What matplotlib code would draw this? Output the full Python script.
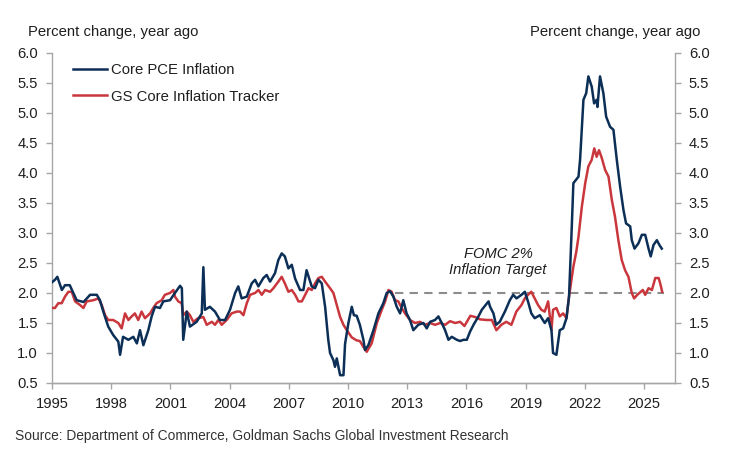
import numpy as np
import matplotlib.pyplot as plt

plt.rcParams['font.family'] = ['Liberation Sans', 'DejaVu Sans']

# values (decimal year, percent)
pce_years = [1995.0, 1995.15, 1995.27, 1995.5, 1995.66, 1995.9, 1996.08, 1996.25, 1996.6, 1996.93,
             1997.27, 1997.43, 1997.6, 1997.85, 1998.1, 1998.36, 1998.45, 1998.6, 1998.87, 1999.12,
             1999.3, 1999.46, 1999.63, 1999.88, 2000.05, 2000.22, 2000.47, 2000.64, 2000.98, 2001.23,
             2001.49, 2001.58, 2001.65, 2001.83, 2001.99, 2002.33, 2002.59, 2002.67, 2002.75, 2003.0,
             2003.26, 2003.51, 2003.77, 2004.02, 2004.28, 2004.44, 2004.61, 2004.87, 2005.12, 2005.29,
             2005.46, 2005.71, 2005.88, 2006.05, 2006.3, 2006.47, 2006.64, 2006.8, 2006.98, 2007.15,
             2007.32, 2007.57, 2007.74, 2007.9, 2008.16, 2008.33, 2008.5, 2008.67, 2008.84, 2009.0,
             2009.09, 2009.26, 2009.34, 2009.43, 2009.6, 2009.77, 2009.85, 2010.02, 2010.19, 2010.3,
             2010.44, 2010.6, 2010.78, 2010.86, 2011.03, 2011.29, 2011.54, 2011.79, 2011.96, 2012.13,
             2012.3, 2012.47, 2012.64, 2012.8, 2012.97, 2013.14, 2013.31, 2013.56, 2013.82, 2013.99,
             2014.16, 2014.41, 2014.58, 2014.75, 2014.92, 2015.09, 2015.26, 2015.51, 2015.68, 2015.85,
             2016.02, 2016.19, 2016.36, 2016.61, 2016.78, 2016.95, 2017.12, 2017.2, 2017.37, 2017.5,
             2017.69, 2017.95, 2018.2, 2018.37, 2018.54, 2018.79, 2018.96, 2019.12, 2019.29, 2019.46,
             2019.72, 2019.97, 2020.14, 2020.31, 2020.39, 2020.56, 2020.73, 2020.9, 2021.07, 2021.2,
             2021.34, 2021.42, 2021.68, 2021.76, 2021.93, 2022.07, 2022.18, 2022.35, 2022.47, 2022.6,
             2022.64, 2022.77, 2022.94, 2023.08, 2023.28, 2023.45, 2023.62, 2023.79, 2023.96, 2024.09,
             2024.3, 2024.38, 2024.52, 2024.72, 2024.89, 2025.06, 2025.23, 2025.34, 2025.48, 2025.65,
             2025.78, 2025.9]
pce_values = [2.18, 2.22, 2.27, 2.05, 2.13, 2.13, 2.0, 1.88, 1.85, 1.97,
              1.97, 1.88, 1.69, 1.44, 1.30, 1.19, 0.97, 1.27, 1.22, 1.27,
              1.16, 1.38, 1.13, 1.38, 1.61, 1.77, 1.75, 1.86, 1.88, 2.0,
              2.12, 2.08, 1.22, 1.69, 1.44, 1.52, 1.66, 2.43, 1.72, 1.77,
              1.69, 1.55, 1.55, 1.72, 2.0, 2.11, 1.91, 1.94, 2.16, 2.22,
              2.11, 2.25, 2.30, 2.19, 2.33, 2.55, 2.66, 2.61, 2.41, 2.47,
              2.24, 2.05, 2.05, 2.38, 2.11, 2.08, 2.22, 2.16, 1.77, 1.22,
              1.0, 0.88, 0.77, 0.91, 0.63, 0.63, 1.15, 1.5, 1.77, 1.63,
              1.62, 1.47, 1.22, 1.05, 1.13, 1.38, 1.66, 1.83, 2.0, 2.03,
              1.94, 1.77, 1.66, 1.88, 1.66, 1.55, 1.38, 1.47, 1.5, 1.41,
              1.52, 1.55, 1.61, 1.5, 1.38, 1.22, 1.27, 1.22, 1.2, 1.22,
              1.22, 1.36, 1.47, 1.61, 1.72, 1.79, 1.86, 1.77, 1.66, 1.47,
              1.52, 1.69, 1.88, 1.97, 1.91, 1.97, 2.02, 1.86, 1.66, 1.58,
              1.63, 1.5, 1.58, 1.38, 1.0, 0.97, 1.38, 1.41, 1.58, 1.94,
              3.11, 3.83, 3.94, 4.22, 5.22, 5.33, 5.61, 5.44, 5.16, 5.22,
              5.1, 5.61, 5.33, 4.94, 4.77, 4.72, 4.22, 3.77, 3.38, 3.16,
              3.11, 2.88, 2.74, 2.83, 2.97, 2.97, 2.74, 2.61, 2.8, 2.88,
              2.8, 2.74]

gs_years = [1995.0, 1995.15, 1995.32, 1995.49, 1995.66, 1995.83, 1996.0, 1996.17, 1996.42, 1996.59,
            1996.76, 1997.1, 1997.35, 1997.52, 1997.69, 1997.85, 1998.1, 1998.36, 1998.53, 1998.7,
            1998.87, 1999.04, 1999.2, 1999.37, 1999.54, 1999.71, 1999.97, 2000.13, 2000.3, 2000.56,
            2000.72, 2000.98, 2001.15, 2001.23, 2001.4, 2001.57, 2001.65, 2001.83, 2001.99, 2002.16,
            2002.41, 2002.67, 2002.84, 2003.1, 2003.26, 2003.43, 2003.6, 2003.85, 2004.1, 2004.36,
            2004.53, 2004.7, 2004.87, 2005.04, 2005.29, 2005.46, 2005.63, 2005.8, 2006.05, 2006.22,
            2006.47, 2006.64, 2006.8, 2006.98, 2007.15, 2007.32, 2007.49, 2007.66, 2007.83, 2008.0,
            2008.16, 2008.33, 2008.5, 2008.67, 2008.84, 2009.09, 2009.26, 2009.43, 2009.6, 2009.77,
            2009.94, 2010.19, 2010.44, 2010.6, 2010.78, 2010.95, 2011.2, 2011.46, 2011.71, 2011.88,
            2012.05, 2012.21, 2012.38, 2012.55, 2012.72, 2012.89, 2013.14, 2013.4, 2013.65, 2013.9,
            2014.16, 2014.41, 2014.67, 2014.92, 2015.17, 2015.43, 2015.68, 2015.9, 2016.2, 2016.44,
            2016.7, 2017.03, 2017.29, 2017.52, 2017.77, 2018.02, 2018.28, 2018.53, 2018.79, 2018.96,
            2019.12, 2019.29, 2019.46, 2019.63, 2019.8, 2019.97, 2020.14, 2020.31, 2020.39, 2020.56,
            2020.73, 2020.9, 2021.07, 2021.2, 2021.42, 2021.57, 2021.68, 2021.85, 2022.02, 2022.18,
            2022.35, 2022.48, 2022.6, 2022.72, 2022.86, 2023.03, 2023.2, 2023.37, 2023.53, 2023.7,
            2023.87, 2024.04, 2024.21, 2024.38, 2024.5, 2024.66, 2024.83, 2024.94, 2025.06, 2025.23,
            2025.4, 2025.57, 2025.74, 2025.82, 2025.92]
gs_values = [1.75, 1.75, 1.83, 1.83, 1.94, 2.02, 2.02, 1.86, 1.8, 1.75,
             1.86, 1.88, 1.91, 1.8, 1.63, 1.55, 1.55, 1.5, 1.41, 1.66,
             1.55, 1.61, 1.66, 1.55, 1.69, 1.58, 1.66, 1.75, 1.83, 1.88,
             1.97, 2.0, 2.05, 1.94, 1.86, 1.83, 1.63, 1.69, 1.63, 1.52,
             1.58, 1.6, 1.47, 1.52, 1.47, 1.55, 1.47, 1.55, 1.66, 1.69,
             1.69, 1.63, 1.83, 1.97, 2.0, 2.05, 1.97, 2.05, 2.02, 2.08,
             2.19, 2.27, 2.16, 2.02, 2.05, 1.97, 1.86, 1.86, 1.97, 2.08,
             2.05, 2.16, 2.25, 2.27, 2.19, 2.08, 2.0, 1.8, 1.6, 1.47,
             1.38, 1.26, 1.21, 1.2, 1.1, 1.02, 1.16, 1.5, 1.72, 1.86,
             2.05, 2.02, 1.88, 1.86, 1.75, 1.66, 1.55, 1.5, 1.52, 1.47,
             1.5, 1.47, 1.5, 1.47, 1.53, 1.5, 1.52, 1.45, 1.62, 1.6,
             1.56, 1.55, 1.55, 1.38, 1.47, 1.52, 1.47, 1.69, 1.8, 1.91,
             1.97, 2.02, 1.91, 1.8, 1.72, 1.69, 1.86, 1.38, 1.72, 1.75,
             1.61, 1.66, 1.58, 1.94, 2.44, 2.69, 2.94, 3.44, 3.83, 4.11,
             4.22, 4.41, 4.27, 4.38, 4.25, 4.05, 3.94, 3.55, 3.27, 2.88,
             2.55, 2.38, 2.27, 2.0, 1.91, 1.97, 2.02, 2.05, 1.97, 2.08,
             2.05, 2.25, 2.25, 2.16, 2.02]

target_level = 2.0
target_start = 2012.4
target_end = 2026.0

x_ticks = [1995, 1998, 2001, 2004, 2007, 2010, 2013, 2016, 2019, 2022, 2025]
y_ticks = [0.5, 1.0, 1.5, 2.0, 2.5, 3.0, 3.5, 4.0, 4.5, 5.0, 5.5, 6.0]

NAVY = '#0c2f57'
RED = '#c9373d'
SPINE = '#a6a6a6'
TEXT = '#1f1f1f'


def style_axis(ax, side):
    for s in ['top', 'right', 'left', 'bottom']:
        ax.spines[s].set_visible(False)
    ax.spines[side].set_visible(True)
    ax.spines[side].set_color(SPINE)
    ax.spines[side].set_linewidth(1.0)
    ax.spines['bottom'].set_visible(True)
    ax.spines['bottom'].set_color(SPINE)
    ax.spines['bottom'].set_linewidth(1.0)
    ax.set_ylim(0.5, 6.0)
    ax.set_yticks(y_ticks)
    ax.set_yticklabels([f'{v:.1f}' for v in y_ticks])
    ax.tick_params(axis='y', direction='out', length=4, width=1, color=SPINE,
                   labelsize=10.6, labelcolor=TEXT, pad=6)


def main():
    fig = plt.figure(figsize=(7.36, 4.59), dpi=100)
    ax = fig.add_axes([52 / 736, 1 - 383 / 459, (675 - 52) / 736, (383 - 53) / 459])

    ax.plot(gs_years, gs_values, color=RED, lw=1.8, label='GS Core Inflation Tracker', zorder=3)
    ax.plot(pce_years, pce_values, color=NAVY, lw=1.8, label='Core PCE Inflation', zorder=4)
    ax.plot([target_start, target_end], [target_level, target_level], color='#8c8c8c',
            lw=1.5, dashes=(4, 3), zorder=2)

    ax.set_xlim(1995, 2026.57)
    ax.set_xticks(x_ticks)
    ax.set_xticklabels([str(y) for y in x_ticks])
    ax.tick_params(axis='x', direction='out', length=4, width=1, color=SPINE,
                   labelsize=10.6, labelcolor=TEXT, pad=6)
    style_axis(ax, 'left')

    ax2 = ax.twinx()
    style_axis(ax2, 'right')
    ax2.tick_params(axis='x', bottom=False)

    ax.text(2017.6, 2.52, 'FOMC 2%\nInflation Target', ha='center', va='center',
            style='italic', fontsize=10.6, color=TEXT, linespacing=1.2)

    handles, labels = ax.get_legend_handles_labels()
    leg = fig.legend(handles[::-1], labels[::-1], loc='upper left',
                     bbox_to_anchor=(73 / 736, 1 - 63 / 459), frameon=False,
                     fontsize=10.7, handlelength=2.3, handletextpad=0.25,
                     labelspacing=0.85, borderpad=0, borderaxespad=0)
    for t in leg.get_texts():
        t.set_color(TEXT)

    fig.text(28 / 736, 1 - 32 / 459, 'Percent change, year ago', ha='left', va='center',
             fontsize=10.7, color=TEXT)
    fig.text(700 / 736, 1 - 32 / 459, 'Percent change, year ago', ha='right', va='center',
             fontsize=10.7, color=TEXT)
    fig.text(15 / 736, 1 - 436 / 459,
             'Source: Department of Commerce, Goldman Sachs Global Investment Research',
             ha='left', va='center', fontsize=9.9, color='#333333')

    fig.savefig('out.png', dpi=100)


if __name__ == "__main__":
    main()
